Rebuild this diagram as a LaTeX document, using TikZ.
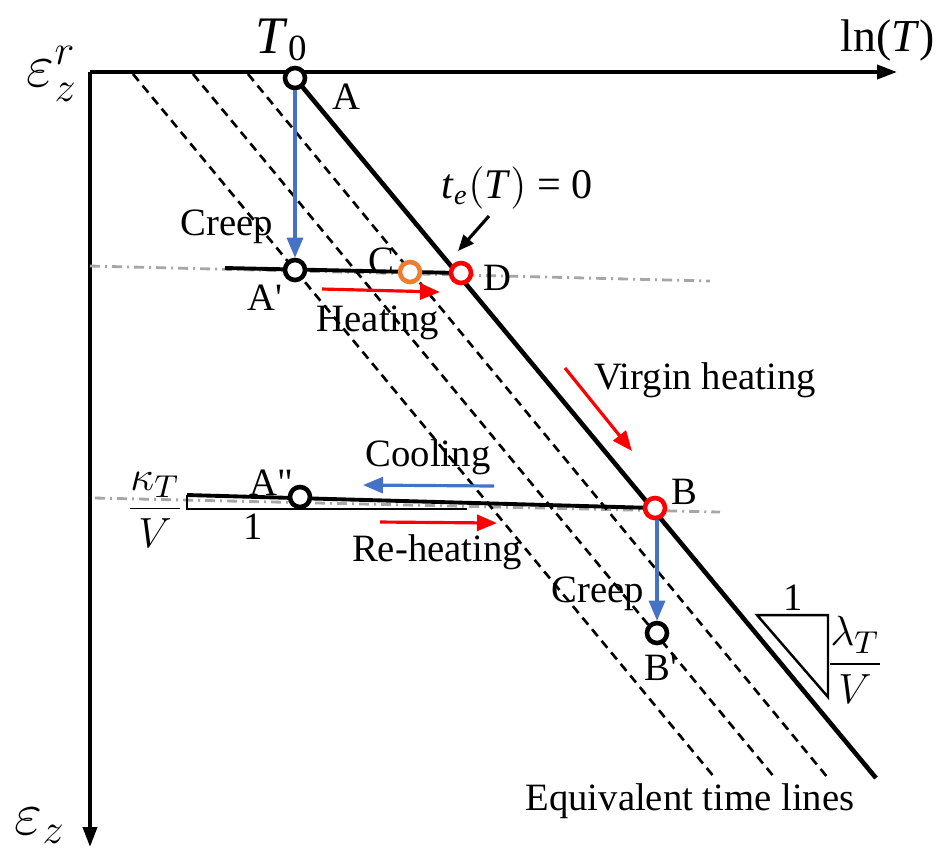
\documentclass[tikz,border=0pt]{standalone}
\usepackage{fontspec}
\setmainfont{Liberation Serif}
\usetikzlibrary{arrows.meta,positioning}
\definecolor{creepblue}{RGB}{68,114,196}
\definecolor{heatred}{RGB}{255,0,0}
\definecolor{ptorange}{RGB}{237,125,49}
\definecolor{refgray}{RGB}{166,166,166}

\begin{document}
\begin{tikzpicture}[x=0.01cm, y=-0.01cm, font=\fontsize{11}{13}\selectfont, pt/.style={circle, draw, line width=1.3pt, fill=white, inner sep=0pt, minimum size=0.2cm}, axis/.style={line width=1.1pt, -{Triangle[length=0.2cm, width=0.14cm]}}, timeline/.style={line width=0.75pt, dash pattern=on 0.09cm off 0.06cm}, refline/.style={refgray, line width=0.8pt, dash pattern=on 0.1cm off 0.05cm on 0.02cm off 0.05cm}, creeparrow/.style={creepblue, line width=0.9pt, -{Triangle[length=0.2cm, width=0.16cm]}}, heatarrow/.style={heatred, line width=0.9pt, -{Triangle[length=0.2cm, width=0.16cm]}}]
\useasboundingbox (0,0) rectangle (949,856);
% axes
\coordinate (O) at (90,72);
\coordinate (xEnd) at (897,72);
\coordinate (yEnd) at (90,847);
\draw[axis] (O) -- (xEnd);
\draw[axis] (O.center) -- (yEnd);
% reference lines
\draw[refline] (90,266) -- (710,281);
\draw[refline] (95,498) -- (720,512);
% equivalent time lines
\draw[timeline] (133,74) -- (715,778);
\draw[timeline] (193,74) -- (775,778);
\draw[timeline] (248,74) -- (828,778);
% points
\coordinate (pA) at (295,78);
\coordinate (pAp) at (295,270);
\coordinate (pC) at (410,272);
\coordinate (pD) at (461,273);
\coordinate (pApp) at (300,497);
\coordinate (pB) at (655,508);
\coordinate (pBp) at (657,633);
\coordinate (lineEnd) at (876,778);
\coordinate (kapTop) at (187,495);
\coordinate (kapBot) at (187,509);
\coordinate (kapEnd) at (467,509);
\coordinate (creepStart) at (225,268);
% virgin line and unloading lines
\draw[line width=1.3pt] (pA) -- (lineEnd);
\draw[line width=1.1pt] (creepStart) -- (pD);
\draw[line width=1.1pt] (kapTop) -- (pB);
\draw[line width=0.7pt] (kapTop) -- (kapBot) -- (kapEnd);
% slope triangle
\draw[line width=0.7pt] (757,615) -- (828,615) -- (828,697) -- cycle;
% state points
\node[pt] (A) at (pA) {};
\node[pt] (Ap) at (pAp) {};
\node[pt, draw=ptorange] (C) at (pC) {};
\node[pt, draw=heatred] (D) at (pD) {};
\node[pt] (App) at (pApp) {};
\node[pt, draw=heatred] (B) at (pB) {};
\node[pt] (Bp) at (pBp) {};
% arrows
\draw[creeparrow] (A) -- (Ap);
\draw[creeparrow] (B.south -| Bp) -- (Bp);
\coordinate (heatS) at (322,289);
\coordinate (heatE) at (440,292);
\draw[heatarrow] (heatS) -- (heatE);
\coordinate (virgS) at (565,368);
\coordinate (virgE) at (632,451);
\draw[heatarrow] (virgS) -- (virgE);
\coordinate (coolS) at (494,486);
\coordinate (coolE) at (363,485);
\draw[creeparrow] (coolS) -- (coolE);
\coordinate (reheatS) at (380,522);
\coordinate (reheatE) at (497,523);
\draw[heatarrow] (reheatS) -- (reheatE);
\node (te) at (517,188) {\fontsize{12}{14}\selectfont\textit{t}\textsubscript{\textit{e}}$\bigl($\textit{T}$\bigr)$ = 0};
\coordinate (teTip) at (458,251);
\draw[line width=0.9pt, -{Triangle[length=0.16cm, width=0.13cm]}] (489,216) -- (teTip);
% labels
\node (T0) at (282,40) {\fontsize{15}{17}\selectfont\textit{T}\textsubscript{0}};
\node (lnT) at (888,40) {\fontsize{13}{15}\selectfont ln(\textit{T})};
\node (epsr) at (52,74) {\fontsize{17}{19}\selectfont$\varepsilon_z^r$};
\node (eps) at (40,826) {\fontsize{17}{19}\selectfont$\varepsilon_z$};
\node (labA) at (346,97) {A};
\node (labAp) at (265,298) {A\textquotesingle};
\node (labC) at (381,261) {C};
\node (labD) at (497,278) {D};
\node (labApp) at (271,483) {A\textquotedbl};
\node (labB) at (684,492) {B};
\node (labBp) at (661,668) {B\textquotesingle};
\node (creep1) at (227,227) {Creep};
\node (creep2) at (598,594) {Creep};
\node (heat) at (378,323) {Heating};
\node (virg) at (705,380) {Virgin heating};
\node (cool) at (428,457) {Cooling};
\node (reheat) at (437,552) {Re-heating};
\node (eqt) at (690,801) {Equivalent time lines};
\node (one1) at (253,527) {1};
\node (one2) at (793,598) {1};
\node (kap) at (155,510) {\fontsize{13}{15}\selectfont$\displaystyle\frac{\kappa_T}{V}$};
\node (lam) at (855,660) {\fontsize{13}{15}\selectfont$\displaystyle\frac{\lambda_T}{V}$};
\end{tikzpicture}
\end{document}
